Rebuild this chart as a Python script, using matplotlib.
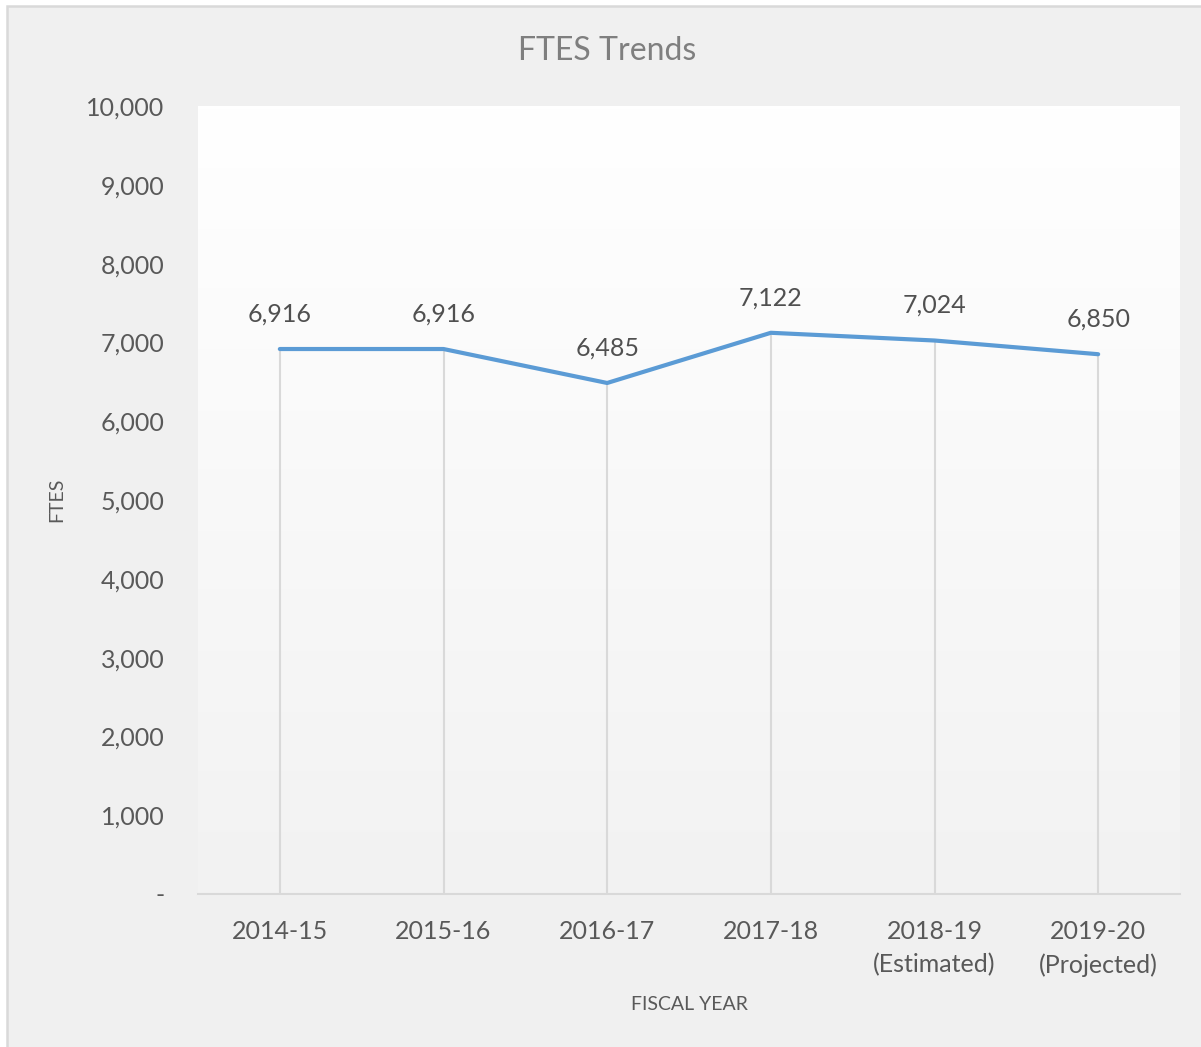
import numpy as np
import matplotlib
matplotlib.use("Agg")
import matplotlib.pyplot as plt
import matplotlib.ticker as mticker
from matplotlib.patches import Rectangle

years = ["2014-15", "2015-16", "2016-17", "2017-18", "2018-19\n(Estimated)", "2019-20\n(Projected)"]
ftes = [6916, 6916, 6485, 7122, 7024, 6850]
yticks = list(range(0, 10001, 1000))

plt.rcParams['font.family'] = ['Lato', 'DejaVu Sans']

W, H = 1201, 1047
fig = plt.figure(figsize=(W / 100, H / 100), dpi=100)
fig.patch.set_facecolor("white")

# outer chart frame (top/left edges visible, rest cut off)
frame = Rectangle((6.5 / W, -0.05), 1.1, 1 - 6.5 / H + 0.05, transform=fig.transFigure,
                  facecolor="#f0f0f0", edgecolor="#d9d9d9", linewidth=1.8, zorder=-5)
fig.patches.append(frame)

ax = fig.add_axes([198 / W, 1 - 894 / H, (1180 - 198) / W, (894 - 106) / H])
ax.set_zorder(2)
ax.set_facecolor("none")

# plot area gradient white -> light grey
grad = np.linspace(1.0, 0.0, 256).reshape(-1, 1)
ax.imshow(grad, extent=[0, 1, 0, 1], transform=ax.transAxes, aspect="auto",
          cmap=matplotlib.colors.LinearSegmentedColormap.from_list("g", ["#f2f2f2", "#ffffff"]),
          zorder=0)

x = np.arange(len(years))
ax.vlines(x, 0, ftes, color="#d9d9d9", linewidth=1.5, zorder=1)
ax.plot(x, ftes, color="#5b9bd5", linewidth=3, solid_capstyle="round", zorder=3)

for xi, v in zip(x, ftes):
    ax.annotate(f"{v:,}", (xi, v), xytext=(0, 35), textcoords="offset pixels",
                ha="center", va="center", fontsize=18, color="#505050", zorder=4)

ax.set_xlim(-0.5, len(years) - 0.5)
ax.set_ylim(0, 10000)
ax.set_yticks(yticks)
ax.yaxis.set_major_formatter(mticker.FuncFormatter(lambda v, p: "-" if v == 0 else f"{int(v):,}"))
ax.set_xticks(x)
ax.set_xticklabels(years)
for lab in ax.get_xticklabels():
    lab.set_linespacing(1.5)

ax.tick_params(axis="y", length=0, pad=24, labelsize=18, labelcolor="#595959")
ax.tick_params(axis="x", length=0, pad=19, labelsize=18, labelcolor="#595959")

for s in ["top", "right", "left"]:
    ax.spines[s].set_visible(False)
ax.spines["bottom"].set_color("#d9d9d9")
ax.spines["bottom"].set_linewidth(1.5)
ax.spines["bottom"].set_zorder(2)

fig.text(607 / W, 1 - 51 / H, "FTES Trends",
         ha="center", va="center", fontsize=23, color="#7f7f7f")
fig.text(57 / W, 1 - 500 / H, "FTES", rotation=90, ha="center", va="center",
         fontsize=14, color="#595959")
fig.text(689 / W, 1 - 1004 / H, "FISCAL YEAR", ha="center", va="center",
         fontsize=14, color="#595959")

fig.savefig("out.png", dpi=100, facecolor=fig.get_facecolor())
